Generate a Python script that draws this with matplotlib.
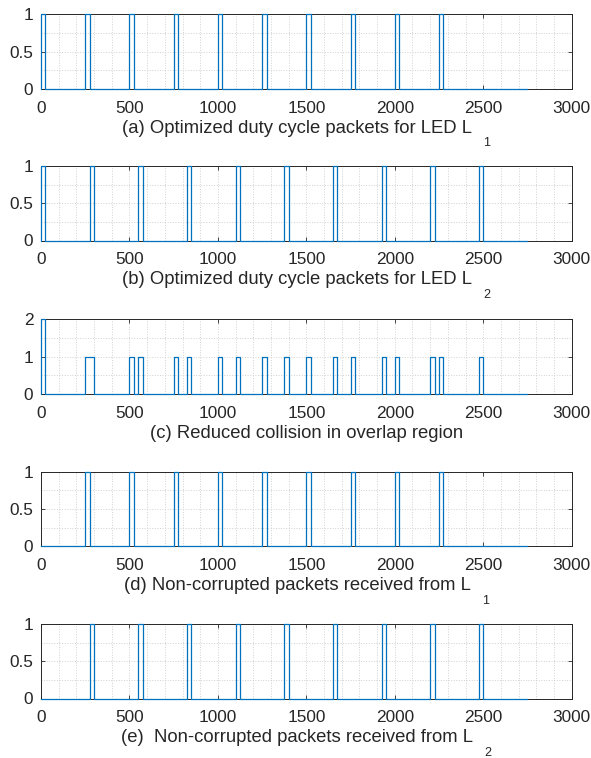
import matplotlib
matplotlib.use("Agg")
import matplotlib.pyplot as plt
from matplotlib.ticker import MultipleLocator

plt.rcParams['font.family'] = ['Liberation Sans', 'DejaVu Sans']

# ---------------- data ----------------
t_end = 2750

# (a) LED L1 packets: on/off times, level
a_on = [0, 250, 500, 750, 1000, 1250, 1500, 1750, 2000, 2250]
a_off = [25, 275, 525, 775, 1025, 1275, 1525, 1775, 2025, 2275]
a_lev = [1, 1, 1, 1, 1, 1, 1, 1, 1, 1]

# (b) LED L2 packets
b_on = [0, 275, 550, 825, 1100, 1375, 1650, 1925, 2200, 2475]
b_off = [25, 300, 575, 850, 1125, 1400, 1675, 1950, 2225, 2500]
b_lev = [1, 1, 1, 1, 1, 1, 1, 1, 1, 1]

# (c) overlap region
c_on = [0, 250, 500, 550, 750, 825, 1000, 1100, 1250, 1375, 1500, 1650,
        1750, 1925, 2000, 2200, 2250, 2475]
c_off = [25, 300, 525, 575, 775, 850, 1025, 1125, 1275, 1400, 1525, 1675,
         1775, 1950, 2025, 2225, 2275, 2500]
c_lev = [2, 1, 1, 1, 1, 1, 1, 1, 1, 1, 1, 1, 1, 1, 1, 1, 1, 1]

# (d) non-corrupted from L1
d_on = [250, 500, 750, 1000, 1250, 1500, 1750, 2000, 2250]
d_off = [275, 525, 775, 1025, 1275, 1525, 1775, 2025, 2275]
d_lev = [1, 1, 1, 1, 1, 1, 1, 1, 1]

# (e) non-corrupted from L2
e_on = [275, 550, 825, 1100, 1375, 1650, 1925, 2200, 2475]
e_off = [300, 575, 850, 1125, 1400, 1675, 1950, 2225, 2500]
e_lev = [1, 1, 1, 1, 1, 1, 1, 1, 1]

captions = [
    ("(a) Optimized duty cycle packets for LED L", "1"),
    ("(b) Optimized duty cycle packets for LED L", "2"),
    ("(c) Reduced collision in overlap region", ""),
    ("(d) Non-corrupted packets received from L", "1"),
    ("(e)  Non-corrupted packets received from L", "2"),
]
x_ticks = [0, 500, 1000, 1500, 2000, 2500, 3000]
y_ticks_1 = [0, 0.5, 1]
y_ticks_2 = [0, 1, 2]
y_labels_1 = ["0", "0.5", "1"]
y_labels_2 = ["0", "1", "2"]

series = [(a_on, a_off, a_lev), (b_on, b_off, b_lev), (c_on, c_off, c_lev),
          (d_on, d_off, d_lev), (e_on, e_off, e_lev)]

# ---------------- drawing ----------------
W, H = 591, 758
fig = plt.figure(figsize=(W / 100, H / 100), dpi=100)

LINE = '#0072BD'
TXT = '#262626'
tops = [14.3, 166.0, 319.3, 471.7, 624.0]
ax_h = 74.5
left_px, right_px = 41.0, 571.7

axes = []
for i, (on, off, lev) in enumerate(series):
    top = tops[i]
    ax = fig.add_axes([left_px / W, 1 - (top + ax_h) / H,
                       (right_px - left_px) / W, ax_h / H])
    axes.append(ax)
    xs, ys = [0], [0]
    for o, f, l in zip(on, off, lev):
        xs += [o, o, f, f]
        ys += [0, l, l, 0]
    xs.append(t_end)
    ys.append(0)
    ax.plot(xs, ys, color=LINE, lw=0.9, clip_on=False, zorder=3)

    ax.set_xlim(0, 3000)
    ax.set_xticks(x_ticks)
    ax.xaxis.set_minor_locator(MultipleLocator(100))
    if i == 2:
        ax.set_ylim(0, 2)
        ax.set_yticks(y_ticks_2)
        ax.set_yticklabels(y_labels_2)
        ax.yaxis.set_minor_locator(MultipleLocator(0.5))
    else:
        ax.set_ylim(0, 1)
        ax.set_yticks(y_ticks_1)
        ax.set_yticklabels(y_labels_1)
        ax.yaxis.set_minor_locator(MultipleLocator(0.25))

    ax.grid(True, which='major', color='#d0d0d0', linestyle=':', lw=0.7)
    ax.grid(True, which='minor', color='#d0d0d0', linestyle=':', lw=0.7)
    ax.tick_params(which='major', direction='in', length=3, width=0.6,
                   top=True, right=True, colors=TXT, labelsize=12.4)
    ax.tick_params(axis='x', which='major', pad=8.5)
    ax.tick_params(axis='y', which='major', pad=5.5)
    ax.tick_params(which='minor', length=0, top=False, right=False)
    for sp in ax.spines.values():
        sp.set_color(TXT)
        sp.set_linewidth(0.7)
    ax.set_axisbelow(True)

fig.canvas.draw()
renderer = fig.canvas.get_renderer()
for i, (main, sub) in enumerate(captions):
    bottom_px = tops[i] + ax_h
    base_px = bottom_px + 43.8
    cx = (left_px + right_px) / 2
    t = fig.text(0, 1 - base_px / H, main, fontsize=13.3, color=TXT,
                 ha='left', va='baseline')
    wm = t.get_window_extent(renderer).width
    if sub:
        s = fig.text(0, 1 - (base_px + 13.5) / H, sub, fontsize=9, color=TXT,
                     ha='left', va='baseline')
        ws = s.get_window_extent(renderer).width
        gap = 11
        total = wm + gap + ws
        x0 = cx - total / 2
        t.set_x(x0 / W)
        s.set_x((x0 + wm + gap) / W)
    else:
        t.set_x((cx - wm / 2) / W)

fig.savefig('out.png', dpi=100)
